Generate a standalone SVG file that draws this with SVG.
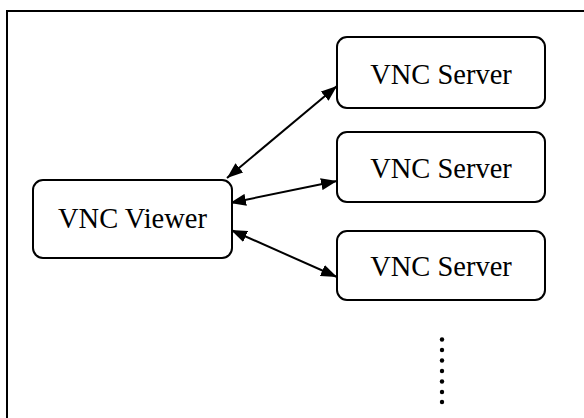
<svg xmlns="http://www.w3.org/2000/svg" width="584" height="418" viewBox="0 0 584 418">
<defs>
<style>
.box{fill:#fff;stroke:#000;stroke-width:2}
.lbl{font-family:"Liberation Serif","Times New Roman",serif;font-size:28.5px;fill:#000;text-anchor:middle}
.con{stroke:#000;stroke-width:2;fill:none;marker-start:url(#ah);marker-end:url(#ah)}
</style>
<marker id="ah" viewBox="0 0 16 12" refX="16" refY="6" markerWidth="16" markerHeight="12" markerUnits="userSpaceOnUse" orient="auto-start-reverse">
<path d="M0,0 L16,6 L0,12 Z" fill="#000"/>
</marker>
</defs>
<rect width="584" height="418" fill="#fff"/>
<rect x="7" y="11" width="620" height="460" fill="none" stroke="#000" stroke-width="2"/>
<g id="connectors">
<line class="con" x1="227" y1="178" x2="337" y2="86"/>
<line class="con" x1="230" y1="203" x2="337" y2="181"/>
<line class="con" x1="231" y1="230" x2="337" y2="277"/>
</g>
<g id="viewer">
<rect class="box" x="33" y="180" width="199" height="78" rx="10"/>
<text class="lbl" x="132.5" y="228">VNC Viewer</text>
</g>
<g id="server1">
<rect class="box" x="337" y="37" width="208" height="71" rx="10"/>
<text class="lbl" x="441" y="84">VNC Server</text>
</g>
<g id="server2">
<rect class="box" x="337" y="132" width="208" height="70" rx="10"/>
<text class="lbl" x="441" y="178">VNC Server</text>
</g>
<g id="server3">
<rect class="box" x="337" y="231" width="208" height="69" rx="10"/>
<text class="lbl" x="441" y="276">VNC Server</text>
</g>
<g id="ellipsis" fill="#000">
<circle cx="442" cy="339.5" r="2.2"/>
<circle cx="442" cy="350" r="2.2"/>
<circle cx="442" cy="360.5" r="2.2"/>
<circle cx="442" cy="371" r="2.2"/>
<circle cx="442" cy="381.5" r="2.2"/>
<circle cx="442" cy="392" r="2.2"/>
<circle cx="442" cy="402" r="2.2"/>
</g>
</svg>
